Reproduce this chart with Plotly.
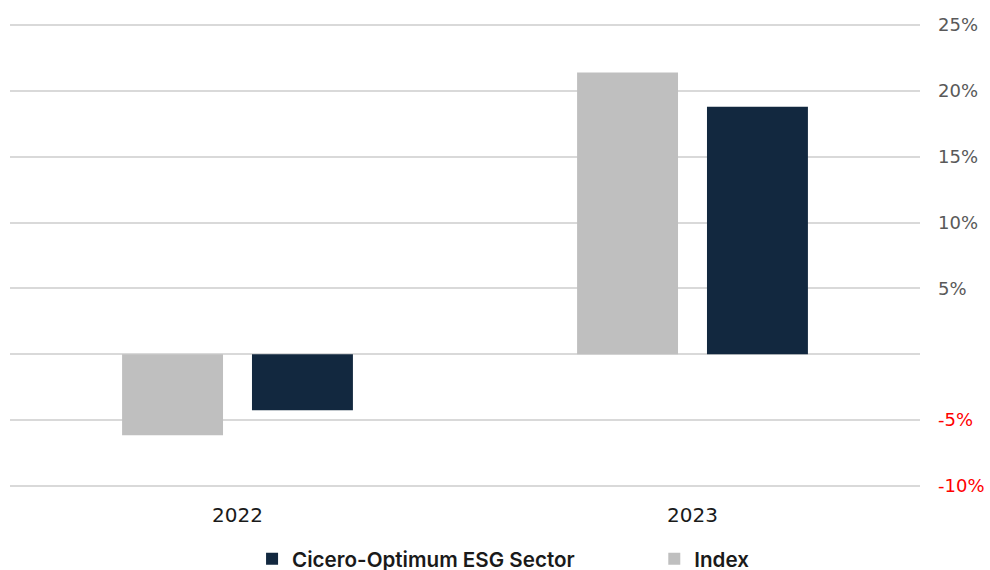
import plotly.graph_objects as go

categories = ["2022", "2023"]
index_values = [-6.15, 21.4]
cicero_values = [-4.25, 18.8]
tick_values = [-10, -5, 0, 5, 10, 15, 20, 25]
tick_labels = ["<span style='color:#FF0000'>-10%</span>", "<span style='color:#FF0000'>-5%</span>", "",
               "5%", "10%", "15%", "20%", "25%"]

fig = go.Figure()
fig.add_trace(go.Bar(x=categories, y=index_values, name="Index",
                     marker=dict(color="#BFBFBF", line=dict(width=0)), legend="legend2"))
fig.add_trace(go.Bar(x=categories, y=cicero_values, name="Cicero-Optimum ESG Sector",
                     marker=dict(color="#12283F", line=dict(width=0)), legend="legend"))

legend_font = dict(family="Inter", size=20.6, color="#1a1a1a", weight=600)
fig.update_layout(
    width=990, height=570,
    margin=dict(l=10, r=70, t=24, b=83, autoexpand=False),
    plot_bgcolor="white", paper_bgcolor="white",
    barmode="group", bargap=0.429, bargroupgap=0.223,
    showlegend=True,
    legend=dict(orientation="h", x=0.266, xanchor="left", y=-0.155, yanchor="middle",
                font=legend_font, bgcolor="rgba(0,0,0,0)"),
    legend2=dict(orientation="h", x=0.708, xanchor="left", y=-0.155, yanchor="middle",
                 font=legend_font, bgcolor="rgba(0,0,0,0)"),
    xaxis=dict(showgrid=False, showline=False, ticks="", automargin=False,
               ticklabelstandoff=14,
               tickfont=dict(family="DejaVu Sans", size=20, color="#1a1a1a")),
    yaxis=dict(side="right", range=[-10.08, 25.08], tickvals=tick_values, ticktext=tick_labels,
               showgrid=True, gridcolor="#D9D9D9", gridwidth=1.5, automargin=False,
               zeroline=True, zerolinecolor="#D9D9D9", zerolinewidth=1.5,
               ticks="", ticklabelstandoff=17,
               tickfont=dict(family="DejaVu Sans", size=18, color="#595959")),
)
fig.write_html("out.html", config={"displayModeBar": False},
               post_script="document.body.style.margin='0';document.body.style.overflow='hidden';")
